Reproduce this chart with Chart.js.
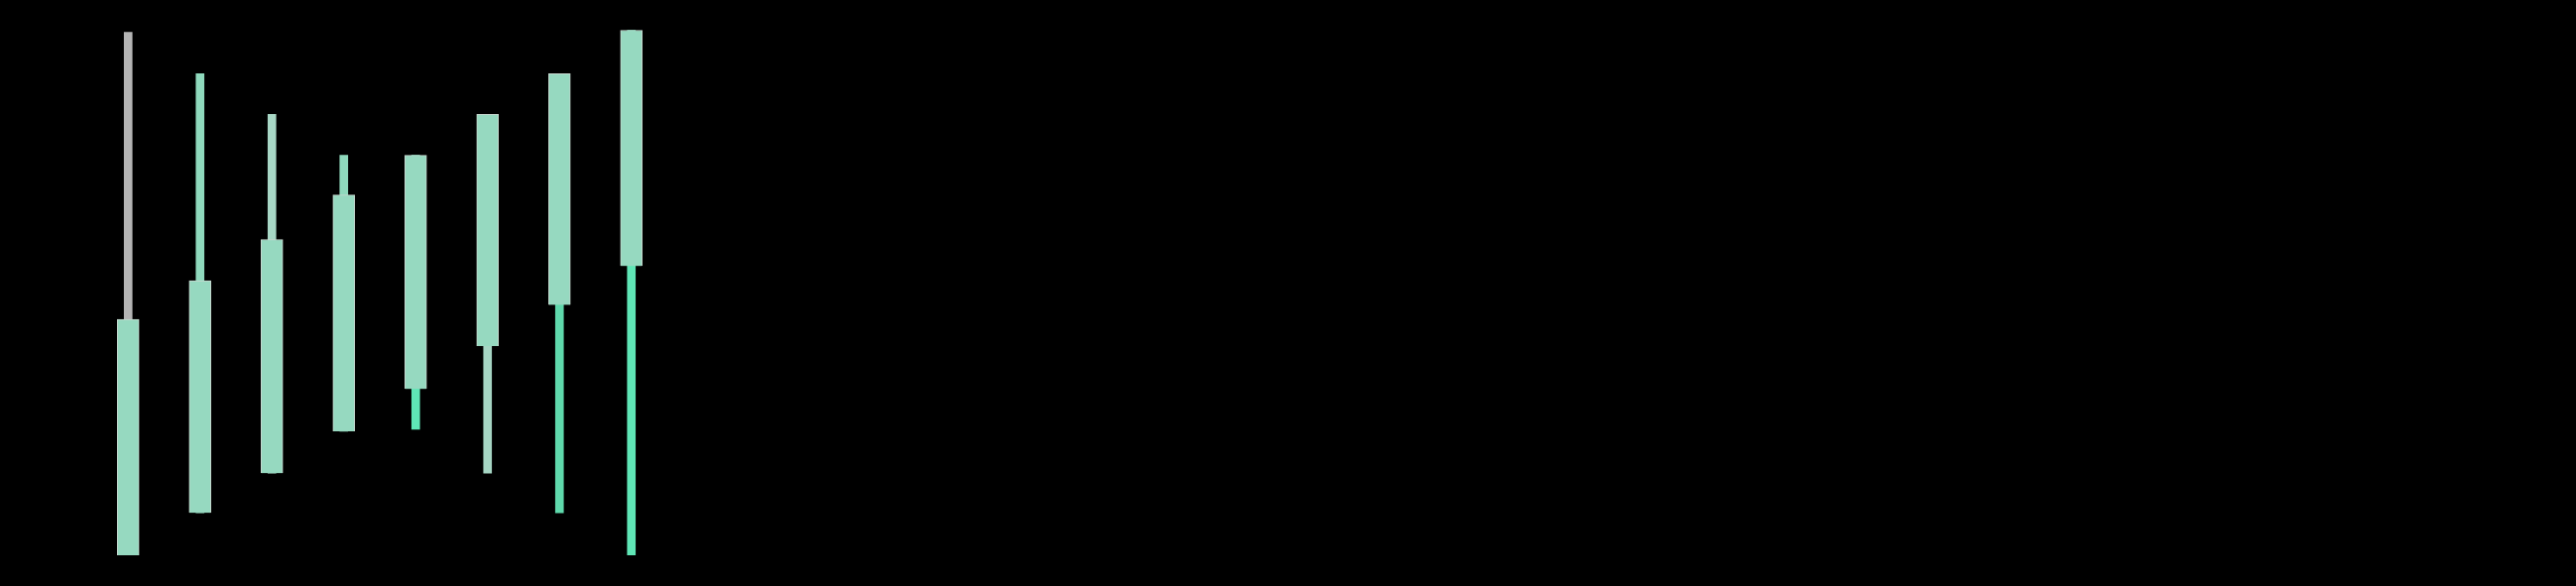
<!DOCTYPE html>
<html lang="en">
<head>
  <meta charset="UTF-8">
  <title>Candles</title>
  <script src="https://cdn.jsdelivr.net/npm/chart.js@4.4.0/dist/chart.umd.min.js"></script>
  <style>
    html, body { margin: 0; padding: 0; background: #000; width: 2598px; height: 591px; overflow: hidden; }
    #wrap { position: absolute; left: 0; top: 0; width: 700px; height: 591px; }
  </style>
</head>
<body>
  <div id="wrap"><canvas id="chart"></canvas></div>
  <script>
    // candle data (value scale 0..100)
    const labels = ['1', '2', '3', '4', '5', '6', '7', '8'];
    const lows   = [0, 8.1, 15.7, 23.7, 24.1, 15.7, 8.1, 0];
    const highs  = [100, 92.1, 84.3, 76.5, 76.5, 84.3, 92.1, 100.4];
    const opens  = [0, 8.1, 15.7, 23.7, 31.8, 40.0, 47.9, 55.3];
    const closes = [45.1, 52.5, 60.4, 68.9, 76.5, 84.3, 92.1, 100.4];

    const wickColors = ['#b4b4b4', '#8fd9bd', '#a8d8c6', '#8fd9bd', '#5fe6b6', '#a6d6c4', '#5fd9ac', '#5fe6b6'];

    const wicks = labels.map((_, i) => [lows[i], highs[i]]);
    const bodies = labels.map((_, i) => [opens[i], closes[i]]);

    new Chart(document.getElementById('chart'), {
      type: 'bar',
      data: {
        labels: labels,
        datasets: [
          {
            label: 'wick',
            data: wicks,
            backgroundColor: wickColors,
            borderWidth: 0,
            barThickness: 8,
            grouped: false,
            order: 2
          },
          {
            label: 'body',
            data: bodies,
            backgroundColor: '#96d9c0',
            borderColor: '#c8d8d0',
            borderWidth: 1,
            barThickness: 22,
            grouped: false,
            order: 1
          }
        ]
      },
      options: {
        responsive: true,
        maintainAspectRatio: false,
        animation: false,
        layout: { padding: { left: 93, right: 27, top: 30, bottom: 31 } },
        plugins: { legend: { display: false }, tooltip: { enabled: false } },
        scales: {
          x: { display: false, offset: true },
          y: { display: false, min: 0, max: 100.5 }
        }
      }
    });
  </script>
</body>
</html>
